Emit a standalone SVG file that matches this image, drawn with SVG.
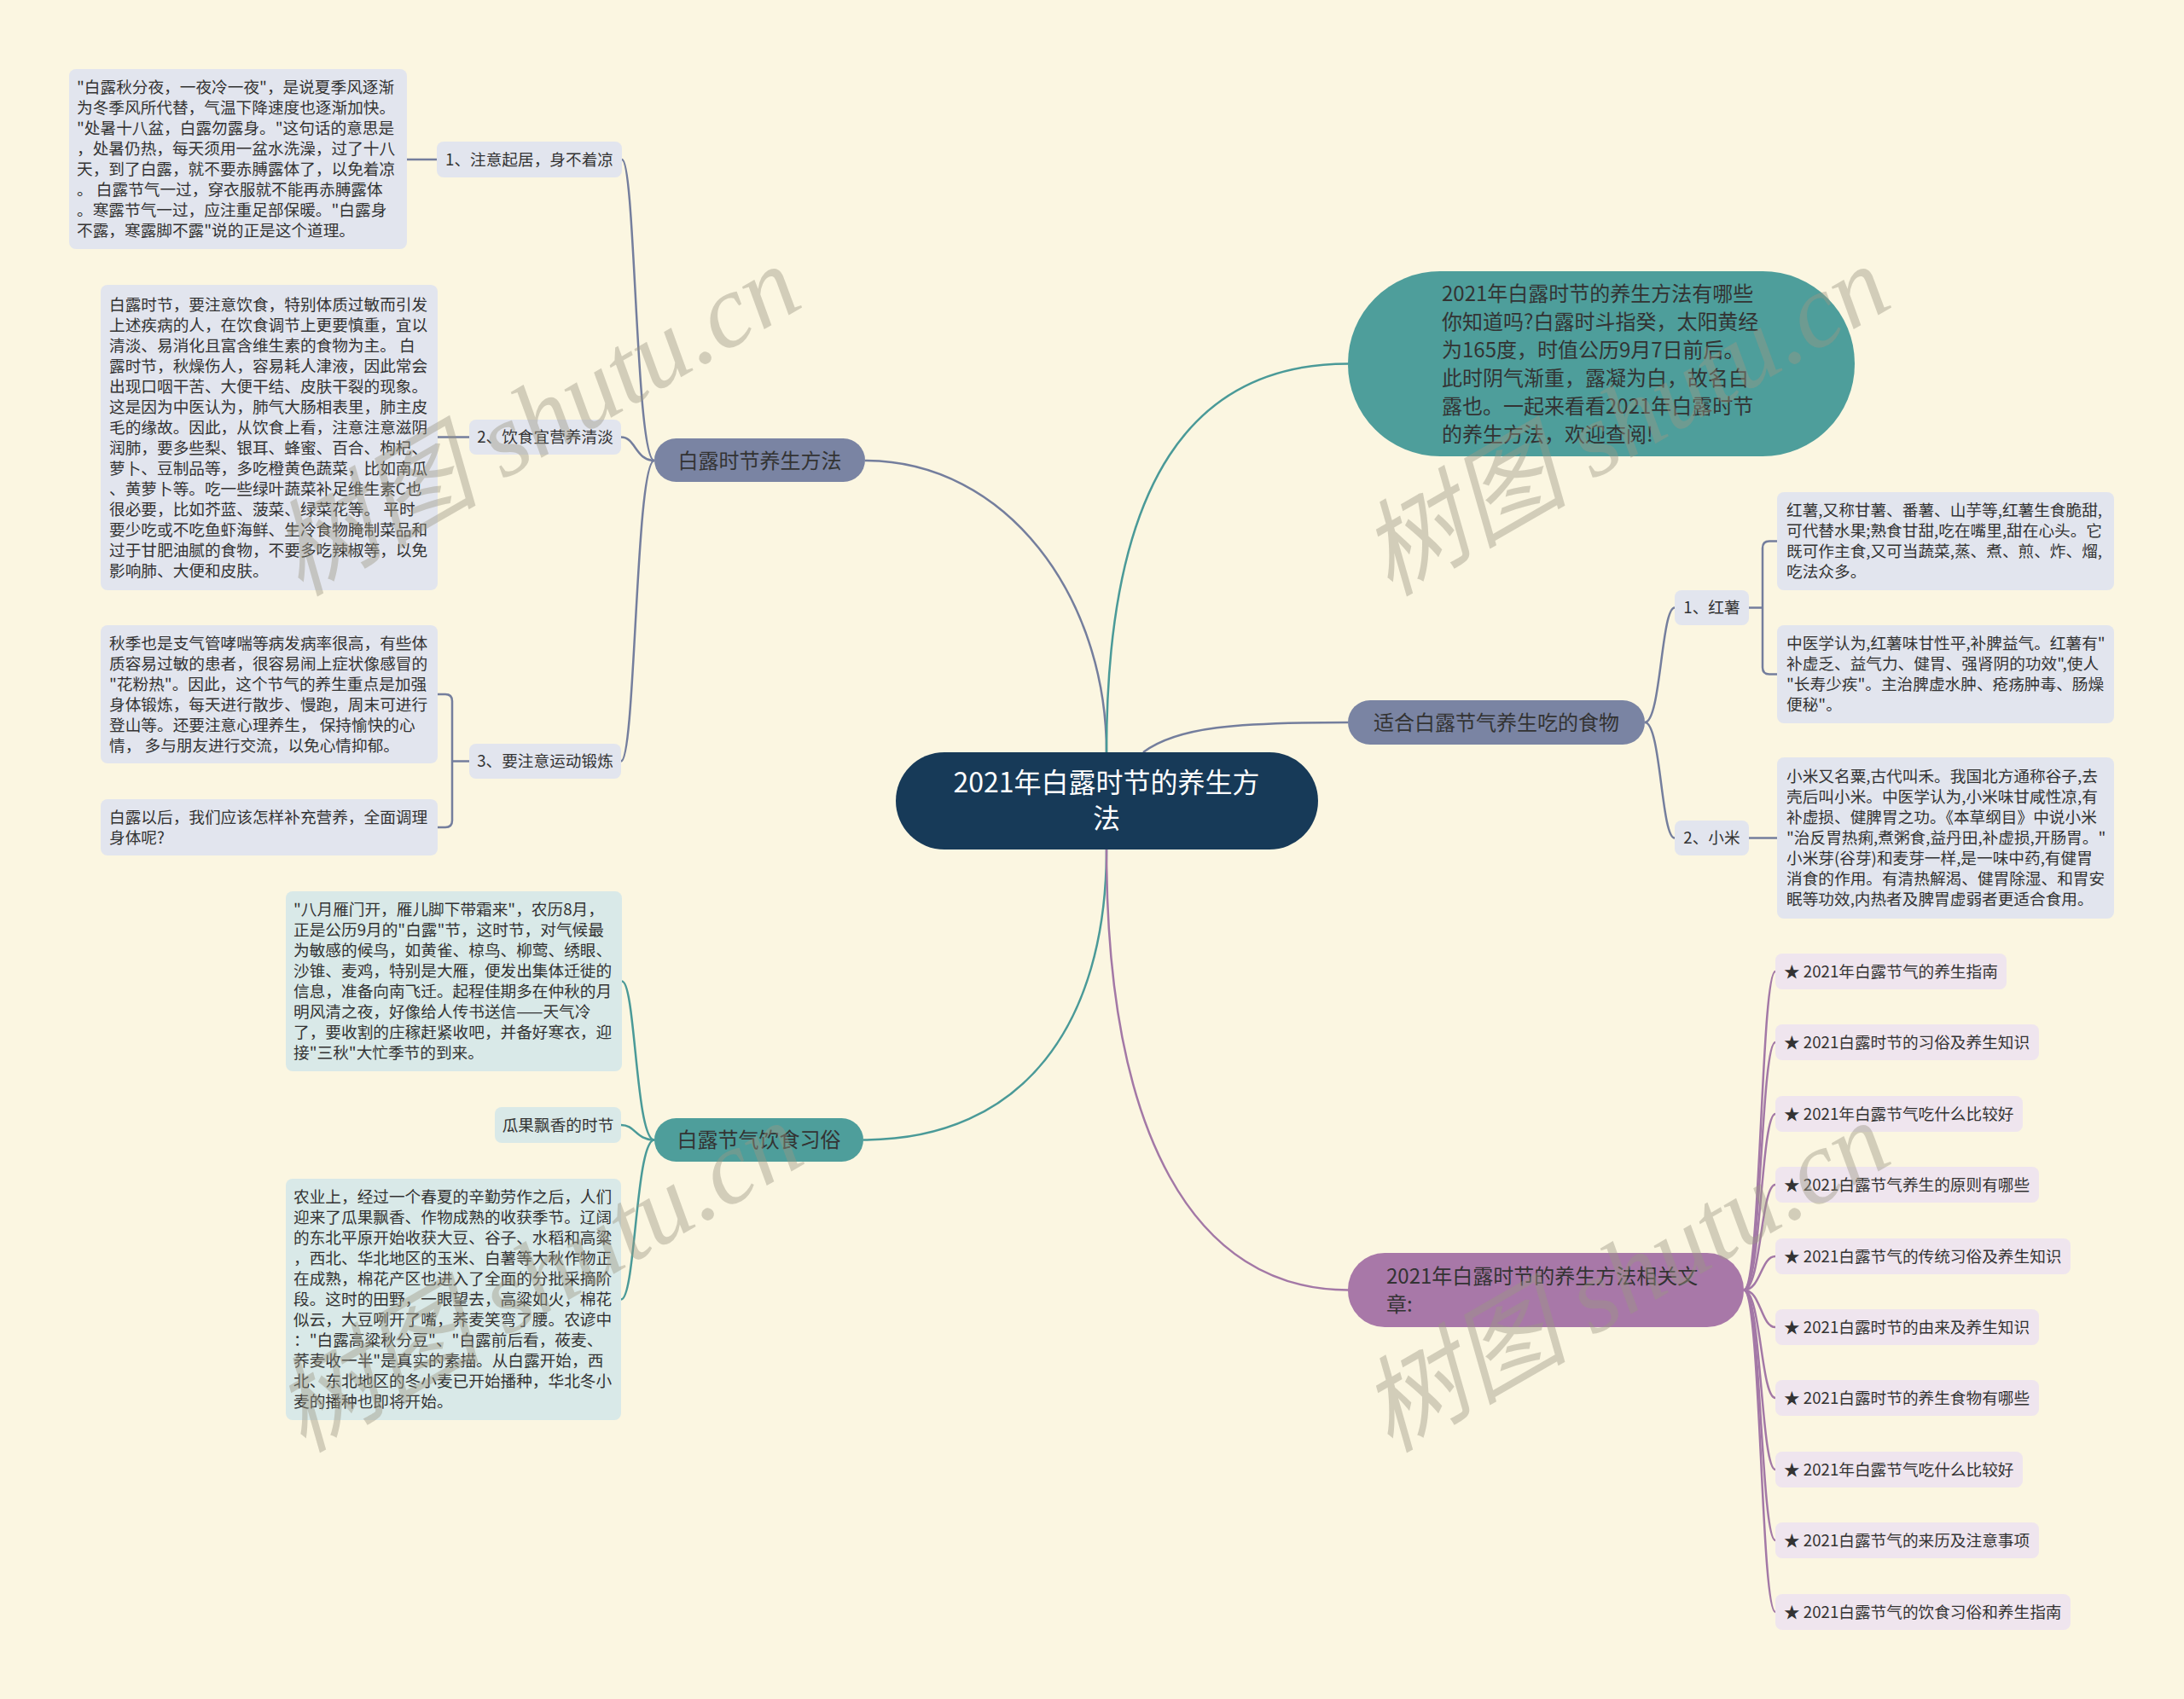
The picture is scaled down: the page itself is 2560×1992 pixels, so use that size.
<svg xmlns="http://www.w3.org/2000/svg" width="2560" height="1992" viewBox="0 0 2560 1992">
<style>
text{font-family:"Noto Sans CJK SC","Noto Sans",sans-serif;fill:#333;font-size:18.67px}
.m{font-size:24px}
.c{font-size:32px;fill:#fff}
.gb{fill:#e2e5ee}
.tb{fill:#d9e9e8}
.pb{fill:#efe5ee}
.ls{fill:none;stroke:#747e9d;stroke-width:2.5}
.lt{fill:none;stroke:#4a9a98;stroke-width:2.5}
.lp{fill:none;stroke:#a378a6;stroke-width:2.5}
.wm{font-family:"Liberation Serif","Noto Sans CJK SC",serif;font-style:italic;font-size:122px;fill:#9c9784;opacity:0.42}
</style>
<rect width="2560" height="1992" fill="#fbf6e1"/>
<g id="connectors">
<path class="ls" d="M1297 882 C1297 700 1180 540 1014 540"/>
<path class="lt" d="M1297 882 C1297 560 1400 426.5 1580 426.5"/>
<path class="ls" d="M1340 882 C1380 852 1450 847 1580 847"/>
<path class="lt" d="M1297 996 C1297 1200 1200 1336.5 1012 1336.5"/>
<path class="lp" d="M1297 996 C1297 1330 1400 1512.5 1580 1512.5"/>
<path class="ls" d="M767 540 C745 540 745 187 729 187"/>
<path class="ls" d="M767 540 C745 540 745 512.5 728 512.5"/>
<path class="ls" d="M767 540 C745 540 745 892.5 728 892.5"/>
<path class="ls" d="M512 187 L477 187"/>
<path class="ls" d="M550 512.5 L513 512.5"/>
<path class="ls" d="M550 892.5 L530 892.5 M513 814 L522 814 Q530 814 530 822 L530 962 Q530 970 522 970 L513 970"/>
<path class="lt" d="M767 1336.5 C745 1336.5 745 1150.5 729 1150.5"/>
<path class="lt" d="M767 1336.5 C745 1336.5 745 1319 728 1319"/>
<path class="lt" d="M767 1336.5 C745 1336.5 745 1523.5 728 1523.5"/>
<path class="ls" d="M1928 847 C1947 847 1947 712.5 1963 712.5"/>
<path class="ls" d="M1928 847 C1947 847 1947 982.5 1963 982.5"/>
<path class="ls" d="M2050 712.5 L2066 712.5 M2083 634.5 L2074 634.5 Q2066 634.5 2066 642.5 L2066 782.5 Q2066 790.5 2074 790.5 L2083 790.5"/>
<path class="ls" d="M2050 982.5 L2083 982.5"/>
<path class="lp" d="M2044 1512.5 C2064 1512.5 2064 1139 2081 1139"/>
<path class="lp" d="M2044 1512.5 C2064 1512.5 2064 1222 2081 1222"/>
<path class="lp" d="M2044 1512.5 C2064 1512.5 2064 1306 2081 1306"/>
<path class="lp" d="M2044 1512.5 C2064 1512.5 2064 1389 2081 1389"/>
<path class="lp" d="M2044 1512.5 C2064 1512.5 2064 1473 2081 1473"/>
<path class="lp" d="M2044 1512.5 C2064 1512.5 2064 1556 2081 1556"/>
<path class="lp" d="M2044 1512.5 C2064 1512.5 2064 1639 2081 1639"/>
<path class="lp" d="M2044 1512.5 C2064 1512.5 2064 1723 2081 1723"/>
<path class="lp" d="M2044 1512.5 C2064 1512.5 2064 1806 2081 1806"/>
<path class="lp" d="M2044 1512.5 C2064 1512.5 2064 1890 2081 1890"/>
</g>
<g id="center">
<rect x="1050" y="882" width="495" height="114" rx="57" fill="#173a58"/>
<text class="c" text-anchor="middle"><tspan x="1297" y="929">2021年白露时节的养生方</tspan><tspan x="1297" y="971">法</tspan></text>
</g>
<g id="b1">
<rect x="767" y="514" width="247" height="51" rx="25.5" fill="#7a84a3"/>
<text class="m" x="890.5" y="548.5" text-anchor="middle">白露时节养生方法</text>
</g>
<g id="b1a">
<rect class="gb" x="512" y="166" width="217" height="42" rx="8"/>
<text x="620.5" y="193.5" text-anchor="middle">1、注意起居，身不着凉</text>
</g>
<g id="b1a-t">
<rect class="gb" x="81" y="81" width="396" height="211" rx="8"/>
<text><tspan x="90" y="109">"白露秋分夜，一夜冷一夜"，是说夏季风逐渐</tspan><tspan x="90" dy="24">为冬季风所代替，气温下降速度也逐渐加快。</tspan><tspan x="90" dy="24">"处暑十八盆，白露勿露身。"这句话的意思是</tspan><tspan x="90" dy="24">，处暑仍热，每天须用一盆水洗澡，过了十八</tspan><tspan x="90" dy="24">天，到了白露，就不要赤膊露体了，以免着凉</tspan><tspan x="90" dy="24">。 白露节气一过，穿衣服就不能再赤膊露体</tspan><tspan x="90" dy="24">。寒露节气一过，应注重足部保暖。"白露身</tspan><tspan x="90" dy="24">不露，寒露脚不露"说的正是这个道理。</tspan></text>
</g>
<g id="b1b">
<rect class="gb" x="550" y="492" width="178" height="41" rx="8"/>
<text x="639" y="519" text-anchor="middle">2、饮食宜营养清淡</text>
</g>
<g id="b1b-t">
<rect class="gb" x="118" y="334" width="395" height="358" rx="8"/>
<text><tspan x="128" y="363.5">白露时节，要注意饮食，特别体质过敏而引发</tspan><tspan x="128" dy="24">上述疾病的人，在饮食调节上更要慎重，宜以</tspan><tspan x="128" dy="24">清淡、易消化且富含维生素的食物为主。 白</tspan><tspan x="128" dy="24">露时节，秋燥伤人，容易耗人津液，因此常会</tspan><tspan x="128" dy="24">出现口咽干苦、大便干结、皮肤干裂的现象。</tspan><tspan x="128" dy="24">这是因为中医认为，肺气大肠相表里，肺主皮</tspan><tspan x="128" dy="24">毛的缘故。因此，从饮食上看，注意注意滋阴</tspan><tspan x="128" dy="24">润肺，要多些梨、银耳、蜂蜜、百合、枸杞、</tspan><tspan x="128" dy="24">萝卜、豆制品等，多吃橙黄色蔬菜，比如南瓜</tspan><tspan x="128" dy="24">、黄萝卜等。吃一些绿叶蔬菜补足维生素C也</tspan><tspan x="128" dy="24">很必要，比如芥蓝、菠菜、绿菜花等。 平时</tspan><tspan x="128" dy="24">要少吃或不吃鱼虾海鲜、生冷食物腌制菜品和</tspan><tspan x="128" dy="24">过于甘肥油腻的食物，不要多吃辣椒等，以免</tspan><tspan x="128" dy="24">影响肺、大便和皮肤。</tspan></text>
</g>
<g id="b1c">
<rect class="gb" x="550" y="872" width="178" height="41" rx="8"/>
<text x="639" y="899" text-anchor="middle">3、要注意运动锻炼</text>
</g>
<g id="b1c-t1">
<rect class="gb" x="118" y="733" width="395" height="162" rx="8"/>
<text><tspan x="128" y="760.5">秋季也是支气管哮喘等病发病率很高，有些体</tspan><tspan x="128" dy="24">质容易过敏的患者，很容易闹上症状像感冒的</tspan><tspan x="128" dy="24">"花粉热"。因此，这个节气的养生重点是加强</tspan><tspan x="128" dy="24">身体锻炼，每天进行散步、慢跑，周末可进行</tspan><tspan x="128" dy="24">登山等。还要注意心理养生， 保持愉快的心</tspan><tspan x="128" dy="24">情， 多与朋友进行交流，以免心情抑郁。</tspan></text>
</g>
<g id="b1c-t2">
<rect class="gb" x="118" y="937" width="395" height="66" rx="8"/>
<text><tspan x="128" y="964.5">白露以后，我们应该怎样补充营养，全面调理</tspan><tspan x="128" dy="24">身体呢?</tspan></text>
</g>
<g id="b2">
<rect x="767" y="1311" width="245" height="51" rx="25.5" fill="#4e9e9b"/>
<text class="m" x="889.5" y="1345" text-anchor="middle">白露节气饮食习俗</text>
</g>
<g id="b2a">
<rect class="tb" x="335" y="1045" width="394" height="211" rx="8"/>
<text><tspan x="344" y="1073">"八月雁门开，雁儿脚下带霜来"，农历8月，</tspan><tspan x="344" dy="24">正是公历9月的"白露"节，这时节，对气候最</tspan><tspan x="344" dy="24">为敏感的候鸟，如黄雀、椋鸟、柳莺、绣眼、</tspan><tspan x="344" dy="24">沙锥、麦鸡，特别是大雁，便发出集体迁徙的</tspan><tspan x="344" dy="24">信息，准备向南飞迁。起程佳期多在仲秋的月</tspan><tspan x="344" dy="24">明风清之夜，好像给人传书送信——天气冷</tspan><tspan x="344" dy="24">了，要收割的庄稼赶紧收吧，并备好寒衣，迎</tspan><tspan x="344" dy="24">接"三秋"大忙季节的到来。</tspan></text>
</g>
<g id="b2b">
<rect class="tb" x="580" y="1298" width="148" height="42" rx="8"/>
<text x="654" y="1325.5" text-anchor="middle">瓜果飘香的时节</text>
</g>
<g id="b2c">
<rect class="tb" x="335" y="1382" width="393" height="283" rx="8"/>
<text><tspan x="344" y="1410">农业上，经过一个春夏的辛勤劳作之后，人们</tspan><tspan x="344" dy="24">迎来了瓜果飘香、作物成熟的收获季节。辽阔</tspan><tspan x="344" dy="24">的东北平原开始收获大豆、谷子、水稻和高粱</tspan><tspan x="344" dy="24">，西北、华北地区的玉米、白薯等大秋作物正</tspan><tspan x="344" dy="24">在成熟，棉花产区也进入了全面的分批采摘阶</tspan><tspan x="344" dy="24">段。这时的田野，一眼望去，高粱如火，棉花</tspan><tspan x="344" dy="24">似云，大豆咧开了嘴，荞麦笑弯了腰。农谚中</tspan><tspan x="344" dy="24">："白露高粱秋分豆"、"白露前后看，莜麦、</tspan><tspan x="344" dy="24">荞麦收一半"是真实的素描。从白露开始，西</tspan><tspan x="344" dy="24">北、东北地区的冬小麦已开始播种，华北冬小</tspan><tspan x="344" dy="24">麦的播种也即将开始。</tspan></text>
</g>
<g id="intro">
<rect x="1580" y="318" width="594" height="217" rx="108" fill="#4e9e9b"/>
<text class="m"><tspan x="1690" y="352.5">2021年白露时节的养生方法有哪些</tspan><tspan x="1690" dy="33">你知道吗?白露时斗指癸，太阳黄经</tspan><tspan x="1690" dy="33">为165度，时值公历9月7日前后。</tspan><tspan x="1690" dy="33">此时阴气渐重，露凝为白，故名白</tspan><tspan x="1690" dy="33">露也。一起来看看2021年白露时节</tspan><tspan x="1690" dy="33">的养生方法，欢迎查阅!</tspan></text>
</g>
<g id="b3">
<rect x="1580" y="821" width="348" height="52" rx="26" fill="#7a84a3"/>
<text class="m" x="1754" y="855.5" text-anchor="middle">适合白露节气养生吃的食物</text>
</g>
<g id="b3a">
<rect class="gb" x="1963" y="692" width="87" height="41" rx="8"/>
<text x="2006.5" y="719" text-anchor="middle">1、红薯</text>
</g>
<g id="b3a-t1">
<rect class="gb" x="2083" y="577" width="395" height="115" rx="8"/>
<text><tspan x="2094" y="605">红薯,又称甘薯、番薯、山芋等,红薯生食脆甜,</tspan><tspan x="2094" dy="24">可代替水果;熟食甘甜,吃在嘴里,甜在心头。它</tspan><tspan x="2094" dy="24">既可作主食,又可当蔬菜,蒸、煮、煎、炸、熘,</tspan><tspan x="2094" dy="24">吃法众多。</tspan></text>
</g>
<g id="b3a-t2">
<rect class="gb" x="2083" y="733" width="395" height="115" rx="8"/>
<text><tspan x="2094" y="761">中医学认为,红薯味甘性平,补脾益气。红薯有"</tspan><tspan x="2094" dy="24">补虚乏、益气力、健胃、强肾阴的功效",使人</tspan><tspan x="2094" dy="24">"长寿少疾"。主治脾虚水肿、疮疡肿毒、肠燥</tspan><tspan x="2094" dy="24">便秘"。</tspan></text>
</g>
<g id="b3b">
<rect class="gb" x="1963" y="962" width="87" height="41" rx="8"/>
<text x="2006.5" y="989" text-anchor="middle">2、小米</text>
</g>
<g id="b3b-t">
<rect class="gb" x="2083" y="888" width="395" height="189" rx="8"/>
<text><tspan x="2094" y="917">小米又名粟,古代叫禾。我国北方通称谷子,去</tspan><tspan x="2094" dy="24">壳后叫小米。中医学认为,小米味甘咸性凉,有</tspan><tspan x="2094" dy="24">补虚损、健脾胃之功。《本草纲目》中说小米</tspan><tspan x="2094" dy="24">"治反胃热痢,煮粥食,益丹田,补虚损,开肠胃。"</tspan><tspan x="2094" dy="24">小米芽(谷芽)和麦芽一样,是一味中药,有健胃</tspan><tspan x="2094" dy="24">消食的作用。有清热解渴、健胃除湿、和胃安</tspan><tspan x="2094" dy="24">眠等功效,内热者及脾胃虚弱者更适合食用。</tspan></text>
</g>
<g id="b4">
<rect x="1580" y="1469" width="464" height="87" rx="43" fill="#a878a8"/>
<text class="m"><tspan x="1625" y="1504.5">2021年白露时节的养生方法相关文</tspan><tspan x="1625" dy="33">章:</tspan></text>
</g>
<g id="art1"><rect class="pb" x="2081" y="1118" width="271" height="42" rx="8"/><text x="2091" y="1145.5">★ 2021年白露节气的养生指南</text></g>
<g id="art2"><rect class="pb" x="2081" y="1201" width="309" height="42" rx="8"/><text x="2091" y="1228.5">★ 2021白露时节的习俗及养生知识</text></g>
<g id="art3"><rect class="pb" x="2081" y="1285" width="290" height="42" rx="8"/><text x="2091" y="1312.5">★ 2021年白露节气吃什么比较好</text></g>
<g id="art4"><rect class="pb" x="2081" y="1368" width="309" height="42" rx="8"/><text x="2091" y="1395.5">★ 2021白露节气养生的原则有哪些</text></g>
<g id="art5"><rect class="pb" x="2081" y="1452" width="346" height="42" rx="8"/><text x="2091" y="1479.5">★ 2021白露节气的传统习俗及养生知识</text></g>
<g id="art6"><rect class="pb" x="2081" y="1535" width="309" height="42" rx="8"/><text x="2091" y="1562.5">★ 2021白露时节的由来及养生知识</text></g>
<g id="art7"><rect class="pb" x="2081" y="1618" width="309" height="42" rx="8"/><text x="2091" y="1645.5">★ 2021白露时节的养生食物有哪些</text></g>
<g id="art8"><rect class="pb" x="2081" y="1702" width="290" height="42" rx="8"/><text x="2091" y="1729.5">★ 2021年白露节气吃什么比较好</text></g>
<g id="art9"><rect class="pb" x="2081" y="1785" width="309" height="42" rx="8"/><text x="2091" y="1812.5">★ 2021白露节气的来历及注意事项</text></g>
<g id="art10"><rect class="pb" x="2081" y="1869" width="346" height="42" rx="8"/><text x="2091" y="1896.5">★ 2021白露节气的饮食习俗和养生指南</text></g>
<g id="watermarks">
<text class="wm" transform="translate(352 700) rotate(-30)">树图 shutu.cn</text>
<text class="wm" transform="translate(1629 700) rotate(-30)">树图 shutu.cn</text>
<text class="wm" transform="translate(355 1704) rotate(-30)">树图 shutu.cn</text>
<text class="wm" transform="translate(1629 1704) rotate(-30)">树图 shutu.cn</text>
</g>
</svg>
